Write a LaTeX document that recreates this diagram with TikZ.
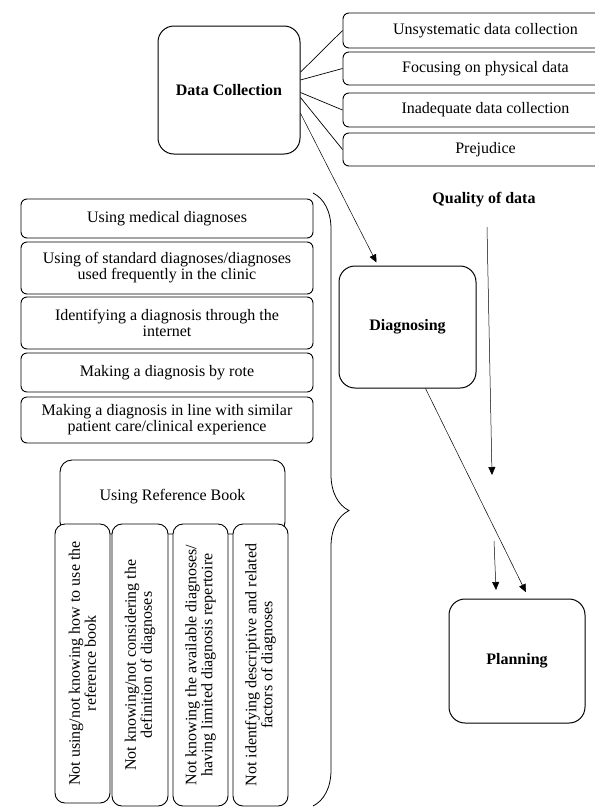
\documentclass[tikz,border=0pt]{standalone}
\usepackage{fontspec}
\setmainfont{Liberation Serif}
\usetikzlibrary{arrows.meta,decorations.pathreplacing}

\begin{document}
\begin{tikzpicture}[x=1pt,y=1pt,
	font=\fontsize{16}{16}\selectfont,
	stage/.style={draw,line width=1pt,rounded corners=16pt,fill=white,
		font=\fontsize{16}{16}\selectfont\bfseries,minimum width=142pt,minimum height=128pt},
	item/.style={draw,line width=0.9pt,rounded corners=6pt,fill=white,align=center,inner sep=2pt},
	link/.style={line width=0.7pt},
	flow/.style={line width=0.5pt,-{Triangle[length=8pt,width=7pt]}}]

	\clip (0,0) rectangle (595,-807);

	% stages
	\node[stage] (dc) at (229,-90) {Data Collection};
	\node[stage,minimum width=137pt,minimum height=122pt] (diag) at (407.5,-327) {Diagnosing};
	\node[stage,minimum width=136pt,minimum height=124pt] (plan) at (517,-661) {Planning};
	\node[font=\fontsize{16}{16}\selectfont\bfseries] (qual) at (484,-200) {Quality of data};

	% data collection problems
	\foreach \n/\y/\h/\t in {dc1/30.5/35/{Unsystematic data collection},
		dc2/68.5/33/{Focusing on physical data},
		dc3/110/34/{Inadequate data collection},
		dc4/149.5/33/{Prejudice}}{
		\node[item,minimum width=285pt,minimum height=\h pt] (\n) at (485.5,-\y) {\t};
	}
	\foreach \a/\n in {14/dc1, 8/dc2, -2/dc3, -6/dc4}{
		\draw[link] (dc.\a) -- (\n.west);
	}

	% diagnosing problems
	\foreach \n/\y/\h/\t in {dg1/218.5/39/{Using medical diagnoses},
		dg2/268/52/{Using of standard diagnoses/diagnoses\\used frequently in the clinic},
		dg3/323/52/{Identifying a diagnosis through the\\internet},
		dg4/372.5/39/{Making a diagnosis by rote},
		dg5/420/46/{Making a diagnosis in line with similar\\patient care/clinical experience}}{
		\node[item,minimum width=292pt,minimum height=\h pt] (\n) at (167,-\y) {\t};
	}

	\node[item,minimum width=225pt,minimum height=74pt,rounded corners=12pt] (ref) at (172.5,-497) {Using Reference Book};
	\foreach \n/\x/\y/\w/\h/\t in {rb1/82.5/663.5/55/279/{Not using/not knowing how to use the\\reference book},
		rb2/140/665/56/282/{Not knowing/not considering the\\definition of diagnoses},
		rb3/200.5/665/55/282/{Not knowing the available diagnoses/\\having limited diagnosis repertoire},
		rb4/260.5/665/55/282/{Not identfying descriptive and related\\factors of diagnoses}}{
		\node[item,rotate=90,rounded corners=10pt,minimum width=\h pt,minimum height=\w pt] (\n) at (\x,-\y) {\t};
	}

	\draw[line width=0.8pt,decorate,decoration={brace,amplitude=36pt,aspect=0.518}] (313,-193) -- (313,-806);

	% flow
	\coordinate (qtop) at (487,-227);
	\coordinate (qmid) at (492,-475);
	\coordinate (qlow) at (494,-541);
	\coordinate (qend) at (496,-590);
	\draw[flow] (dc.-18) -- ([xshift=-31pt,yshift=3pt]diag.north);
	\draw[flow,shorten >=7pt] ([xshift=18pt]diag.south) -- ([xshift=12pt]plan.north);
	\draw[flow] (qtop) -- (qmid);
	\draw[flow] (qlow) -- (qend);

\end{tikzpicture}
\end{document}
